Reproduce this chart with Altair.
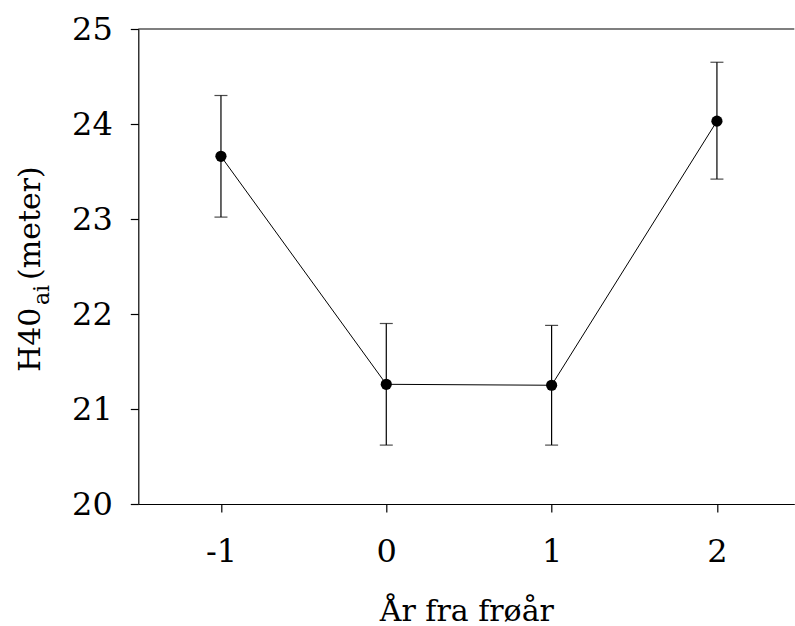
import altair as alt
import pandas as pd

# Data
years = [-1, 0, 1, 2]
mean_h = [23.66, 21.26, 21.25, 24.03]
lower_h = [23.02, 20.62, 20.62, 23.42]
upper_h = [24.30, 21.90, 21.88, 24.65]

x_ticks = [-1, 0, 1, 2]
y_ticks = [20, 21, 22, 23, 24, 25]

x_title = "År fra frøår"
y_title_main = "H40"
y_title_sub = "ai"
y_title_unit = "(meter)"

FONT = "DejaVu Serif"
W, H = 656, 475

df = pd.DataFrame({"x": years, "y": mean_h, "lo": lower_h, "hi": upper_h})

xscale = alt.Scale(domain=[-1.5, 2.468], nice=False, zero=False)
yscale = alt.Scale(domain=[20, 25], nice=False, zero=False)

xaxis = alt.Axis(values=x_ticks, title=x_title, grid=False, tickSize=8,
                 labelPadding=24, titlePadding=29, labelExpr="'' + datum.value",
                 labelFont=FONT, titleFont=FONT, labelFontSize=32, titleFontSize=30)
yaxis = alt.Axis(values=y_ticks, title=None, grid=False, tickSize=8,
                 labelPadding=18, labelExpr="'' + datum.value",
                 labelFont=FONT, labelFontSize=32)

base = alt.Chart(df)

line = base.mark_line(color="black", strokeWidth=1).encode(
    x=alt.X("x:Q", scale=xscale, axis=xaxis),
    y=alt.Y("y:Q", scale=yscale, axis=yaxis),
)
err = base.mark_rule(color="black", strokeWidth=1.2).encode(
    x="x:Q", y="lo:Q", y2="hi:Q"
)
cap_lo = base.mark_tick(color="black", thickness=1.2, size=13, orient="horizontal").encode(
    x="x:Q", y="lo:Q"
)
cap_hi = base.mark_tick(color="black", thickness=1.2, size=13, orient="horizontal").encode(
    x="x:Q", y="hi:Q"
)
pts = base.mark_circle(color="black", opacity=1, size=125).encode(
    x="x:Q", y="y:Q"
)

top_df = pd.DataFrame({"v": [25]})
top_line = alt.Chart(top_df).mark_rule(color="black", strokeWidth=1.2).encode(
    y=alt.Y("v:Q", scale=yscale)
)

def label(text, size, x, y):
    return alt.Chart(pd.DataFrame({"t": [text]})).mark_text(
        font=FONT, fontSize=size, angle=270, align="left",
        baseline="alphabetic", color="black"
    ).encode(text="t:N", x=alt.value(x), y=alt.value(y))

t1 = label(y_title_main, 30, -98.3, 343)
t2 = label(y_title_sub, 22, -89.3, 276)
t3 = label(y_title_unit, 30, -98.3, 251)

chart = alt.layer(top_line, line, err, cap_lo, cap_hi, pts, t1, t2, t3).properties(
    width=W, height=H,
    autosize=alt.AutoSizeParams(type="none"),
    padding={"left": 138.3, "top": 29, "right": 0.7, "bottom": 122},
).configure_view(stroke=None).configure_axis(
    labelColor="black", titleColor="black",
    titleFontWeight="normal", domainColor="black", domainWidth=1.2,
    tickColor="black", tickWidth=1.2,
)

chart.save("out.html", embed_options={"renderer": "svg", "actions": False})
